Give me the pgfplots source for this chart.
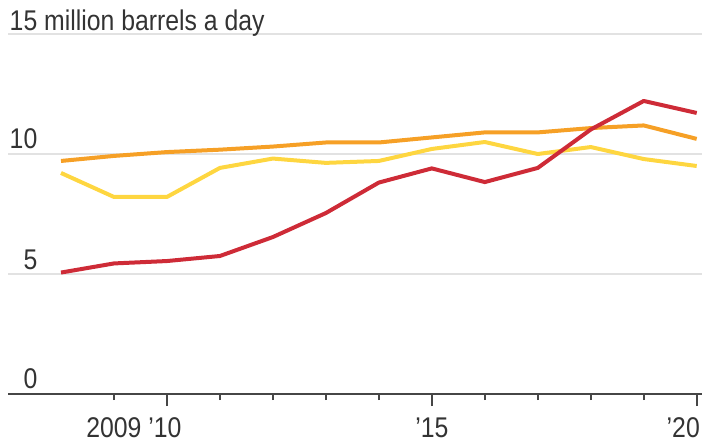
\documentclass[border=0pt]{standalone}
\usepackage{fontspec}
\setmainfont{Liberation Sans}[FakeStretch=0.87]
\usepackage{pgfplots}
\pgfplotsset{compat=1.18}
\definecolor{cred}{RGB}{206,43,55}
\definecolor{corange}{RGB}{246,160,38}
\definecolor{cyellow}{RGB}{254,214,64}
\definecolor{cgrid}{RGB}{226,226,226}
\definecolor{caxis}{RGB}{70,70,70}
\definecolor{ctext}{RGB}{51,51,51}
\begin{document}
\fontsize{28.5bp}{32bp}\selectfont
\begin{tikzpicture}[lbl/.style={text=ctext, inner sep=0pt}]
\begin{axis}[
  scale only axis, width=694bp, height=360bp,
  xmin=2007, xmax=2020.1, ymin=0, ymax=15,
  clip=false,
  axis x line*=bottom, axis y line*=left,
  y axis line style={draw=none},
  x axis line style={draw=caxis, line width=2bp},
  ytick={5,10,15}, yticklabels={},
  ytick style={draw=none},
  ymajorgrids, grid style={draw=cgrid, line width=2bp},
  xtick={2010,2015,2020}, minor xtick={2009,2011,2012,2013,2014,2016,2017,2018,2019},
  xticklabels={},
  tick align=outside,
  major tick length=12bp, minor tick length=6bp,
  xtick style={draw=caxis, line width=1.6bp},
  minor x tick style={draw=caxis, line width=1.6bp},
  every axis plot/.append style={line width=4bp, line join=round, mark=none},
]
\addplot[corange] coordinates {
(2008,9.71) (2009,9.92) (2010,10.08) (2011,10.18) (2012,10.31) (2013,10.48) (2014,10.48)
(2015,10.69) (2016,10.90) (2017,10.90) (2018,11.08) (2019,11.19) (2020,10.63)};
\addplot[cyellow] coordinates {
(2008,9.21) (2009,8.21) (2010,8.21) (2011,9.42) (2012,9.81) (2013,9.63) (2014,9.71)
(2015,10.21) (2016,10.50) (2017,10.00) (2018,10.29) (2019,9.79) (2020,9.50)};
\addplot[cred] coordinates {
(2008,5.06) (2009,5.44) (2010,5.54) (2011,5.75) (2012,6.54) (2013,7.54) (2014,8.81)
(2015,9.40) (2016,8.83) (2017,9.42) (2018,11.02) (2019,12.21) (2020,11.71)};
% y labels
\node[lbl, anchor=base east, xshift=29.5bp, yshift=3bp] at (axis cs:2007,15) {15\rlap{~million barrels a day}};
\node[lbl, anchor=base east, xshift=29.5bp, yshift=5bp] at (axis cs:2007,10) {10};
\node[lbl, anchor=base east, xshift=29.5bp, yshift=5bp] at (axis cs:2007,5) {5};
\node[lbl, anchor=base east, xshift=29.5bp, yshift=6bp] at (axis cs:2007,0) {0};
% x labels
\node[lbl, anchor=base, yshift=-43bp] at (axis cs:2009,0) {2009};
\node[lbl, anchor=base, yshift=-43bp, xshift=-2bp] at (axis cs:2010,0) {’10};
\node[lbl, anchor=base, yshift=-43bp] at (axis cs:2015,0) {’15};
\node[lbl, anchor=base east, yshift=-43bp, xshift=-2bp] at (axis cs:2020.1,0) {’20};
\end{axis}
\pgfresetboundingbox
\useasboundingbox (-8bp,-48bp) rectangle (694bp,394bp);
\end{tikzpicture}
\end{document}
